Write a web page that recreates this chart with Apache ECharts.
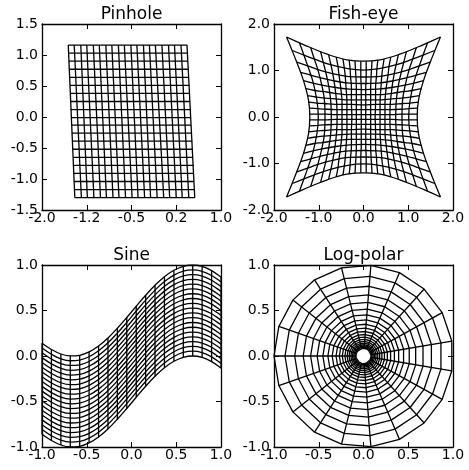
<!DOCTYPE html>
<html>
<head>
<meta charset="utf-8">
<script src="https://cdn.jsdelivr.net/npm/echarts@6/dist/echarts.min.js"></script>
<style>
  html, body { margin: 0; padding: 0; background: #fff; }
  #chart { width: 469px; height: 470px; }
</style>
</head>
<body>
<div id="chart"></div>
<script>
// panel titles and tick labels
var titles = ['Pinhole', 'Fish-eye', 'Sine', 'Log-polar'];
var pinXLabels = ['-2.0', '-1.2', '-0.5', '0.2', '1.0'];
var pinYLabels = ['-1.5', '-1.0', '-0.5', '0.0', '0.5', '1.0', '1.5'];
var fishLabels = ['-2.0', '-1.0', '0.0', '1.0', '2.0'];
var unitLabels = ['-1.0', '-0.5', '0.0', '0.5', '1.0'];

// Pinhole: straight grid
var pinRowY = [1.16, 1.03, 0.90, 0.77, 0.64, 0.51, 0.38, 0.25, 0.12, -0.01,
  -0.13, -0.26, -0.39, -0.52, -0.65, -0.78, -0.91, -1.04, -1.17, -1.30];
var pinRowLeft = [-1.56, -1.56, -1.55, -1.55, -1.54, -1.53, -1.53, -1.52, -1.52, -1.51,
  -1.50, -1.50, -1.49, -1.48, -1.48, -1.47, -1.47, -1.46, -1.45, -1.45];
var pinRowRight = [0.43, 0.44, 0.44, 0.45, 0.46, 0.47, 0.47, 0.48, 0.49, 0.49,
  0.50, 0.51, 0.52, 0.52, 0.53, 0.54, 0.54, 0.55, 0.56, 0.56];
var pinColTop = [-1.56, -1.46, -1.35, -1.25, -1.14, -1.04, -0.93, -0.83, -0.72, -0.62,
  -0.51, -0.41, -0.30, -0.20, -0.10, 0.01, 0.12, 0.22, 0.33, 0.43];
var pinColBottom = [-1.45, -1.34, -1.24, -1.13, -1.02, -0.92, -0.81, -0.71, -0.60, -0.49,
  -0.39, -0.28, -0.18, -0.07, 0.04, 0.14, 0.25, 0.35, 0.46, 0.56];

// Fish-eye: upper right quarter of each row curve, [x, y] from the centre line outwards
var fishRows = [
  [[0, 0.05], [0.30, 0.05], [0.62, 0.05], [0.87, 0.06], [1.02, 0.06], [1.20, 0.06]],
  [[0, 0.16], [0.30, 0.16], [0.62, 0.16], [0.88, 0.17], [1.03, 0.18], [1.21, 0.19]],
  [[0, 0.26], [0.30, 0.27], [0.63, 0.27], [0.88, 0.29], [1.04, 0.30], [1.23, 0.32]],
  [[0, 0.37], [0.30, 0.37], [0.63, 0.39], [0.90, 0.41], [1.06, 0.43], [1.25, 0.46]],
  [[0, 0.48], [0.31, 0.48], [0.64, 0.51], [0.92, 0.55], [1.09, 0.57], [1.29, 0.61]],
  [[0, 0.59], [0.31, 0.60], [0.66, 0.64], [0.95, 0.69], [1.13, 0.73], [1.34, 0.78]],
  [[0, 0.72], [0.32, 0.73], [0.68, 0.78], [0.99, 0.85], [1.18, 0.90], [1.41, 0.96]],
  [[0, 0.86], [0.33, 0.87], [0.72, 0.94], [1.05, 1.03], [1.25, 1.10], [1.49, 1.18]],
  [[0, 1.01], [0.35, 1.04], [0.76, 1.13], [1.11, 1.25], [1.33, 1.33], [1.59, 1.43]],
  [[0, 1.20], [0.37, 1.23], [0.81, 1.35], [1.20, 1.50], [1.44, 1.60], [1.72, 1.72]]
];

// Sine: column positions, top edge of the band at each column, row offsets below it
var sineX = [-1.0, -0.895, -0.789, -0.684, -0.579, -0.474, -0.368, -0.263, -0.158, -0.053,
  0.053, 0.158, 0.263, 0.368, 0.474, 0.579, 0.684, 0.789, 0.895, 1.0];
var sineTop = [0.14, 0.072, 0.022, 0.001, 0.008, 0.045, 0.110, 0.198, 0.305, 0.423,
  0.547, 0.667, 0.777, 0.871, 0.942, 0.986, 1.000, 0.984, 0.938, 0.866];
var sineOffsets = [0, -0.053, -0.105, -0.158, -0.211, -0.263, -0.316, -0.368, -0.421, -0.474,
  -0.526, -0.579, -0.632, -0.684, -0.737, -0.789, -0.842, -0.895, -0.947, -1.0];

// Log-polar: ring radii and spoke angles (degrees)
var logRadii = [0.084, 0.096, 0.109, 0.124, 0.141, 0.161, 0.183, 0.208, 0.237, 0.270,
  0.307, 0.350, 0.398, 0.454, 0.518, 0.591, 0.674, 0.769, 0.877, 1.0];
var logAngles = [180, 161.05, 142.11, 123.16, 104.21, 85.26, 66.32, 47.37, 28.42, 9.47,
  -9.47, -28.42, -47.37, -66.32, -85.26, -104.21, -123.16, -142.11, -161.05];

var font = 'DejaVu Sans';
var black = '#000';
var lw = 1.3;

var chart = echarts.init(document.getElementById('chart'), null, { renderer: 'canvas' });

var grids = [
  { left: 42, top: 24, width: 179, height: 186 },
  { left: 274, top: 24, width: 179, height: 186 },
  { left: 42, top: 265, width: 179, height: 182 },
  { left: 274, top: 265, width: 179, height: 182 }
];
grids.forEach(function (g) { g.outerBoundsMode = 'none'; g.containLabel = false; });

// min, max, interval, labels for each panel
var xSpec = [
  [-2, 1, 0.75, pinXLabels],
  [-2, 2, 1, fishLabels],
  [-1, 1, 0.5, unitLabels],
  [-1, 1, 0.5, unitLabels]
];
var ySpec = [
  [-1.5, 1.5, 0.5, pinYLabels],
  [-2, 2, 1, fishLabels],
  [-1, 1, 0.5, unitLabels],
  [-1, 1, 0.5, unitLabels]
];

function makeAxis(spec, p, position, withLabels) {
  var labels = spec[3];
  var horizontal = position === 'bottom' || position === 'top';
  return {
    type: 'value',
    gridIndex: p,
    position: position,
    min: spec[0],
    max: spec[1],
    interval: spec[2],
    axisLine: { show: true, onZero: false, lineStyle: { color: black, width: lw } },
    axisTick: { show: true, inside: true, length: 5, lineStyle: { color: black, width: 1 } },
    splitLine: { show: false },
    axisLabel: {
      show: withLabels,
      showMinLabel: true,
      showMaxLabel: true,
      hideOverlap: false,
      color: black,
      fontFamily: font,
      fontSize: 14,
      margin: horizontal ? 1 : 4,
      formatter: function (v, i) { return labels[i] !== undefined ? labels[i] : ''; }
    }
  };
}

var xAxes = [], yAxes = [];
for (var p = 0; p < 4; p++) {
  xAxes.push(makeAxis(xSpec[p], p, 'bottom', true));
  xAxes.push(makeAxis(xSpec[p], p, 'top', false));
  yAxes.push(makeAxis(ySpec[p], p, 'left', true));
  yAxes.push(makeAxis(ySpec[p], p, 'right', false));
}

var series = [];
function addLine(p, pts, smooth) {
  series.push({
    type: 'line',
    xAxisIndex: 2 * p,
    yAxisIndex: 2 * p,
    data: pts,
    smooth: smooth ? 0.4 : false,
    symbol: 'none',
    silent: true,
    lineStyle: { color: black, width: lw }
  });
}

// pinhole
pinRowY.forEach(function (y, i) {
  addLine(0, [[pinRowLeft[i], y], [pinRowRight[i], y]], false);
});
pinColTop.forEach(function (x, j) {
  addLine(0, [[x, pinRowY[0]], [pinColBottom[j], pinRowY[pinRowY.length - 1]]], false);
});

// fish-eye: mirror each quarter row, then swap x/y for the columns
fishRows.forEach(function (half) {
  var full = half.slice(1).reverse().map(function (q) { return [-q[0], q[1]]; }).concat(half);
  [1, -1].forEach(function (s) {
    var row = full.map(function (q) { return [q[0], s * q[1]]; });
    addLine(1, row, true);
    addLine(1, row.map(function (q) { return [q[1], q[0]]; }), true);
  });
});

// sine
var lastOff = sineOffsets[sineOffsets.length - 1];
sineOffsets.forEach(function (o) {
  addLine(2, sineX.map(function (x, j) { return [x, sineTop[j] + o]; }), true);
});
sineX.forEach(function (x, j) {
  addLine(2, [[x, sineTop[j] + lastOff], [x, sineTop[j]]], false);
});

// log-polar
function polarPt(r, deg) {
  var a = deg * Math.PI / 180;
  return [r * Math.cos(a), r * Math.sin(a)];
}
logRadii.forEach(function (r) {
  var ring = logAngles.map(function (a) { return polarPt(r, a); });
  ring.push(ring[0]);
  addLine(3, ring, false);
});
logAngles.forEach(function (a) {
  addLine(3, [polarPt(logRadii[0], a), polarPt(logRadii[logRadii.length - 1], a)], false);
});

var option = {
  animation: false,
  backgroundColor: '#fff',
  title: titles.map(function (t, i) {
    var g = grids[i];
    return {
      text: t,
      left: g.left + g.width / 2,
      top: g.top - 18,
      textAlign: 'center',
      padding: 0,
      textStyle: { color: black, fontFamily: font, fontSize: 17, fontWeight: 'normal' }
    };
  }),
  grid: grids,
  xAxis: xAxes,
  yAxis: yAxes,
  series: series
};

if (option && typeof option === 'object') {
  chart.setOption(option);
}
</script>
</body>
</html>
